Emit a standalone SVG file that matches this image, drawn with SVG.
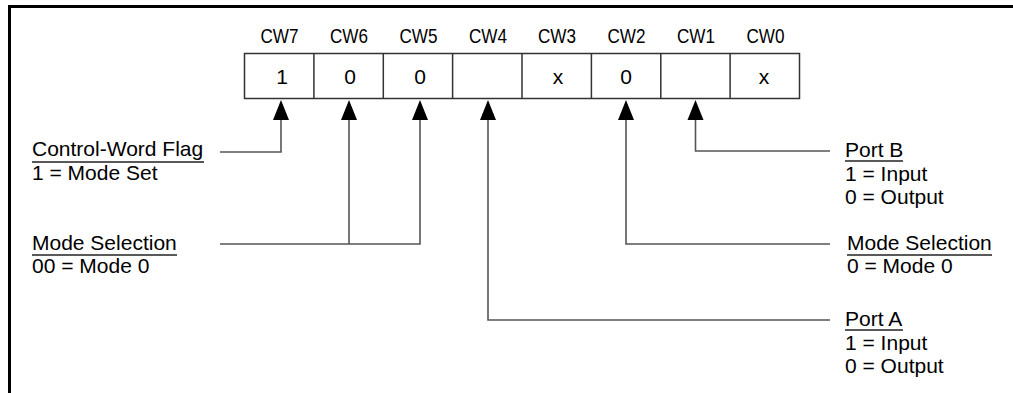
<svg xmlns="http://www.w3.org/2000/svg" width="1013" height="393" viewBox="0 0 1013 393">
<style>
text{font-family:"Liberation Sans",Arial,sans-serif;font-size:21px;fill:#000}
.cw{font-size:21px;text-anchor:middle}
.v{font-size:21px;text-anchor:middle}
.box{fill:#fff;stroke:#333;stroke-width:1.5}
.div{stroke:#333;stroke-width:1.5}
.conn{fill:none;stroke:#555;stroke-width:1.6}
.ul{stroke:#222;stroke-width:1.3}
.ah{fill:#000}
</style>
<rect width="1013" height="393" fill="#fff"/>
<path d="M1013 6.5H9.5V393" fill="none" stroke="#000" stroke-width="3"/>
<g id="register">
<rect class="box" x="244.5" y="53.5" width="555" height="45"/>
<path class="div" d="M313.9 53.5V98.5M383.3 53.5V98.5M452.6 53.5V98.5M522 53.5V98.5M591.4 53.5V98.5M660.8 53.5V98.5M730.1 53.5V98.5"/>
<text class="cw" x="279.5" y="43" textLength="38" lengthAdjust="spacingAndGlyphs">CW7</text>
<text class="cw" x="349" y="43" textLength="38" lengthAdjust="spacingAndGlyphs">CW6</text>
<text class="cw" x="418.5" y="43" textLength="38" lengthAdjust="spacingAndGlyphs">CW5</text>
<text class="cw" x="488" y="43" textLength="38" lengthAdjust="spacingAndGlyphs">CW4</text>
<text class="cw" x="557" y="43" textLength="38" lengthAdjust="spacingAndGlyphs">CW3</text>
<text class="cw" x="626.5" y="43" textLength="38" lengthAdjust="spacingAndGlyphs">CW2</text>
<text class="cw" x="696" y="43" textLength="38" lengthAdjust="spacingAndGlyphs">CW1</text>
<text class="cw" x="765.5" y="43" textLength="38" lengthAdjust="spacingAndGlyphs">CW0</text>
<text class="v" x="282" y="84">1</text>
<text class="v" x="350" y="84">0</text>
<text class="v" x="420" y="84">0</text>
<text class="v" x="558" y="84">x</text>
<text class="v" x="626" y="84">0</text>
<text class="v" x="764" y="84">x</text>
</g>
<g id="connectors">
<path class="conn" d="M281 118V152H220"/>
<path class="conn" d="M349 118V244M420 118V244H220"/>
<path class="conn" d="M488 118V320H830"/>
<path class="conn" d="M626 118V244H830"/>
<path class="conn" d="M695.5 118V151H830"/>
<path class="ah" d="M281 100L273 120H289Z"/>
<path class="ah" d="M349 100L341 120H357Z"/>
<path class="ah" d="M420 100L412 120H428Z"/>
<path class="ah" d="M488 100L480 120H496Z"/>
<path class="ah" d="M626 100L618 120H634Z"/>
<path class="ah" d="M695.5 100L687.5 120H703.5Z"/>
</g>
<g id="cw-flag">
<text x="32" y="156">Control-Word Flag</text>
<line class="ul" x1="32" y1="162" x2="204" y2="162"/>
<text x="32" y="180">1 = Mode Set</text>
</g>
<g id="mode-sel-a">
<text x="32" y="250">Mode Selection</text>
<line class="ul" x1="32" y1="255" x2="177" y2="255"/>
<text x="32" y="273">00 = Mode 0</text>
</g>
<g id="port-b">
<text x="845" y="157">Port B</text>
<line class="ul" x1="845" y1="161" x2="903" y2="161"/>
<text x="845" y="181">1 = Input</text>
<text x="845" y="204">0 = Output</text>
</g>
<g id="mode-sel-b">
<text x="847" y="250">Mode Selection</text>
<line class="ul" x1="847" y1="255" x2="992" y2="255"/>
<text x="847" y="273">0 = Mode 0</text>
</g>
<g id="port-a">
<text x="845" y="326">Port A</text>
<line class="ul" x1="845" y1="330" x2="903" y2="330"/>
<text x="845" y="350">1 = Input</text>
<text x="845" y="373">0 = Output</text>
</g>
</svg>
